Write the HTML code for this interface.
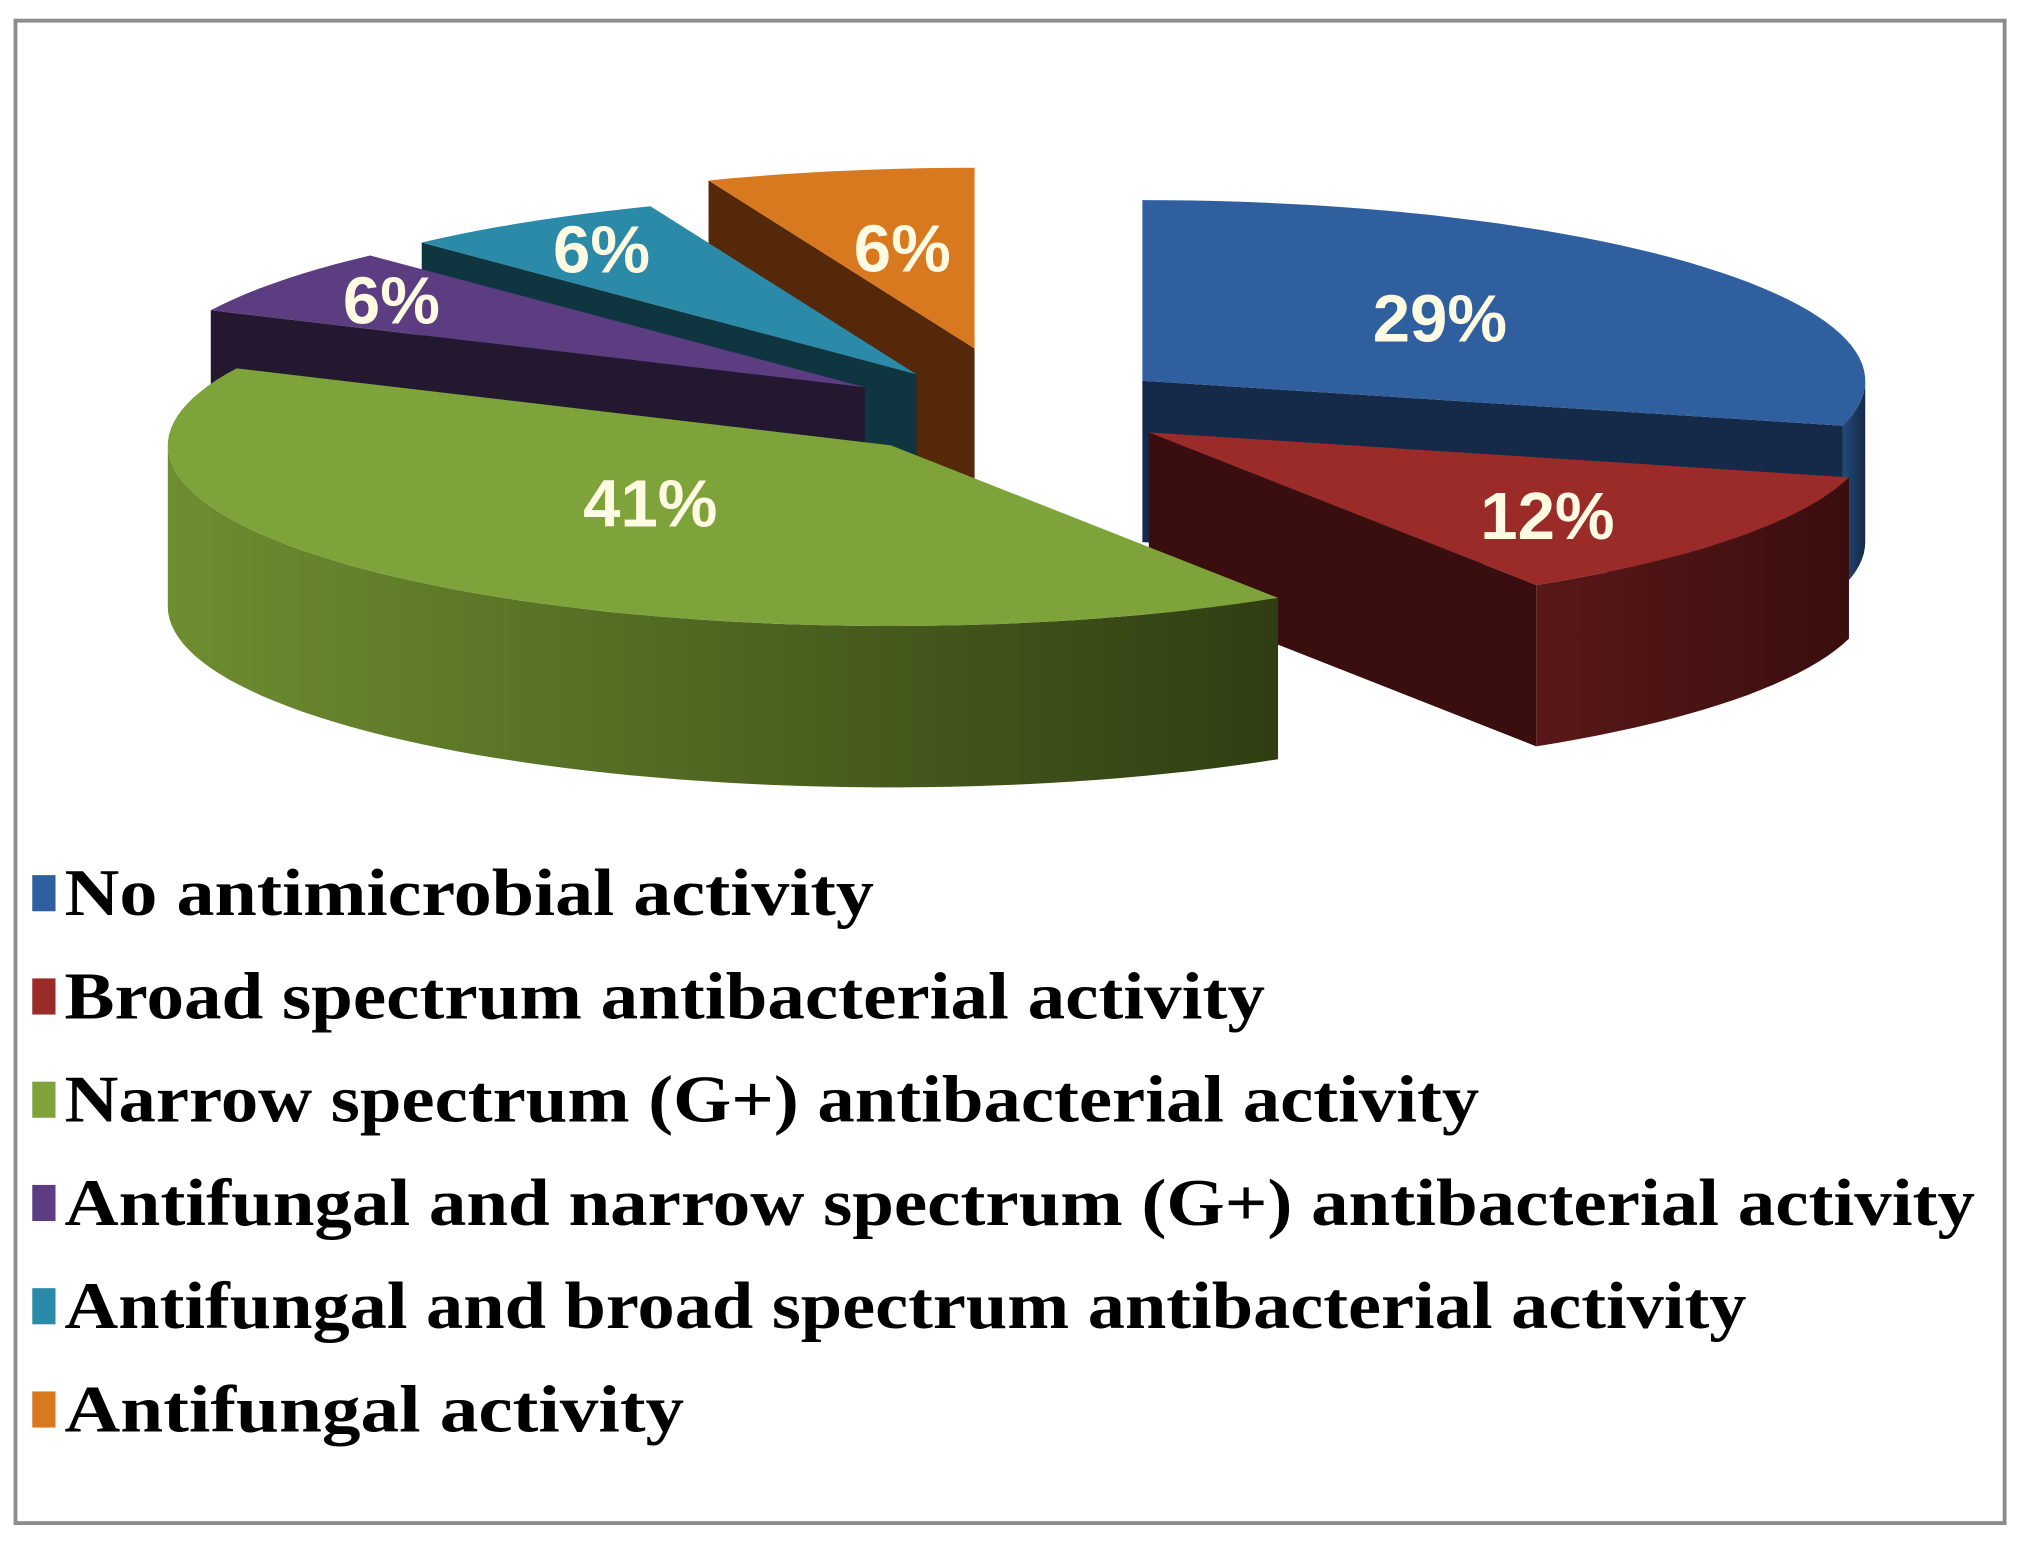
<!DOCTYPE html>
<html><head><meta charset="utf-8"><style>html,body{margin:0;padding:0;background:#fff}svg{display:block}</style></head>
<body>
<svg id="chart" width="2024" height="1544" viewBox="0 0 1568 1196.2" preserveAspectRatio="none" xmlns="http://www.w3.org/2000/svg">
<defs id="defs"></defs>
<rect x="12" y="16" width="1541" height="1164" fill="#fff" stroke="#8c8c8c" stroke-width="3"/>
<g id="pie"></g>
<g id="legend"></g>
</svg>
<script>
const categories = ["No antimicrobial activity","Broad spectrum antibacterial activity","Narrow spectrum (G+) antibacterial activity","Antifungal and narrow spectrum  (G+) antibacterial activity","Antifungal and broad spectrum antibacterial activity","Antifungal activity"];
const values = [29, 12, 41, 6, 6, 6];
const valueLabels = ["29%","12%","41%","6%","6%","6%"];

// layout / style (not data)
const topColors = ["#2f5f9f","#9a2b29","#7ea33a","#5d3d82","#2b8aa8","#d8781f"];
const sideLight = ["#24497a","#5a1818","#6e8e30","#33224a","#1a5060","#7a3c10"];
const sideDark  = ["#152a48","#3a0e0e","#2f3e12","#241830","#0f3640","#55280a"];
const explode = [[85,-25],[90,15],[-110,25],[-130,-20],[-90,-30],[-45,-50]];
const labelNudge = [[-35,3],[37,15],[36,-18],[-95,-18],[-64,-26],[7,5]];
const drawOrder = [5,4,3,0,1,2];
const legendEnd = [677,980,1146,1530,1353,530];
const CX=800, CY=320, RX=560, RY=140, DEPTH=125;
const NS="http://www.w3.org/2000/svg";
const pie=document.getElementById('pie'), defs=document.getElementById('defs'), legend=document.getElementById('legend');
const total=values.reduce((a,b)=>a+b,0);
const slices=[]; let acc=-90;
values.forEach((v,i)=>{const a1=acc, a2=acc+v/total*360; acc=a2; slices.push({a1,a2});});
function pt(cx,cy,a,dy){const r=a*Math.PI/180;return [cx+RX*Math.cos(r), cy+RY*Math.sin(r)+(dy||0)];}
function mk(tag,attrs){const e=document.createElementNS(NS,tag);for(const k in attrs)e.setAttribute(k,attrs[k]);return e;}
function arcPts(cx,cy,a1,a2,dy){const p=[];const n=Math.max(2,Math.ceil(Math.abs(a2-a1)/2));for(let k=0;k<=n;k++)p.push(pt(cx,cy,a1+(a2-a1)*k/n,dy));return p;}
function poly(p){return 'M'+p.map(q=>q[0].toFixed(1)+','+q[1].toFixed(1)).join('L')+'Z';}
drawOrder.forEach(i=>{
  const s=slices[i]; const cx=CX+explode[i][0], cy=CY+explode[i][1];
  const g=mk('g',{});  
  const gid='sg'+i;
  const lg=mk('linearGradient',{id:gid,x1:'0',y1:'0',x2:'1',y2:'0'});
  lg.appendChild(mk('stop',{offset:'0','stop-color':sideLight[i]}));
  lg.appendChild(mk('stop',{offset:'1','stop-color':sideDark[i]}));
  defs.appendChild(lg);
  const walls=[];
  if(Math.cos(s.a1*Math.PI/180)<-0.01) walls.push(s.a1);
  if(Math.cos(s.a2*Math.PI/180)>0.01) walls.push(s.a2);
  walls.forEach(a=>{const r=pt(cx,cy,a);
    const w=mk('path',{d:poly([[cx,cy],r,[r[0],r[1]+DEPTH],[cx,cy+DEPTH]]),fill:sideDark[i]});
      g.appendChild(w);});
  const segs=[[0,180],[360,540]];
  segs.forEach(([lo,hi])=>{let b1=Math.max(s.a1,lo), b2=Math.min(s.a2,hi);
    if(b2>b1){const top=arcPts(cx,cy,b1,b2,0), bot=arcPts(cx,cy,b2,b1,DEPTH);
      const w=mk('path',{d:poly(top.concat(bot)),fill:'url(#'+gid+')'});
        g.appendChild(w);}});
  const topP=[[cx,cy]].concat(arcPts(cx,cy,s.a1,s.a2,0));
  const t=mk('path',{d:poly(topP),fill:topColors[i]});
    g.appendChild(t);
  const mid=(s.a1+s.a2)/2*Math.PI/180;
  const lx=cx+0.6*RX*Math.cos(mid)+labelNudge[i][0], ly=cy+0.6*RY*Math.sin(mid)+labelNudge[i][1];
  const tx=mk('text',{x:lx.toFixed(1),y:(ly+18).toFixed(1),'text-anchor':'middle','font-family':'"Liberation Sans", sans-serif','font-weight':'bold','font-size':'52',fill:'#fffbe2'});
   
  tx.textContent=valueLabels[i]; g.appendChild(tx);
  pie.appendChild(g);
});
categories.forEach((c,i)=>{
  const y=692+i*80;
  const g=mk('g',{});  
  const r=mk('rect',{x:25,y:y-14,width:18,height:28,fill:topColors[i]});
    g.appendChild(r);
  const t=mk('text',{x:50,y:y+17,'font-family':'"Liberation Serif", serif','font-weight':'bold','font-size':'52',fill:'#000',textLength:(legendEnd[i]-50),lengthAdjust:'spacingAndGlyphs'});
   
  t.textContent=c; g.appendChild(t);
  legend.appendChild(g);
});
</script>
</body></html>
